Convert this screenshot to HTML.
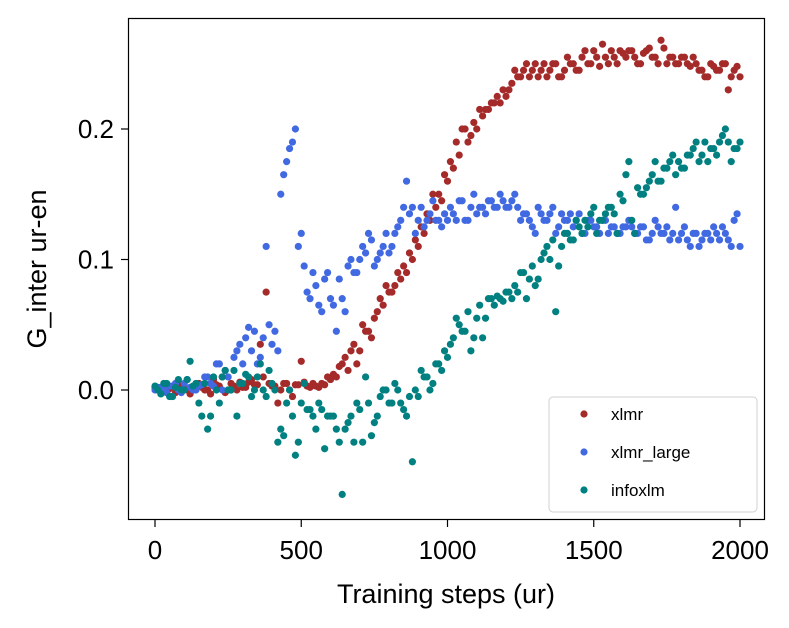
<!DOCTYPE html>
<html><head><meta charset="utf-8">
<style>
html,body{margin:0;padding:0;background:#fff;}
svg{display:block;font-family:"Liberation Sans","DejaVu Sans",sans-serif;}
</style></head>
<body>
<svg id="chart" width="789" height="628" xmlns="http://www.w3.org/2000/svg">
<rect x="128.5" y="18.5" width="636" height="501" fill="#fff" stroke="#000" stroke-width="1.2"/>
<g id="marks"></g>
<g id="axes"></g>
<text x="446" y="603" font-size="27" text-anchor="middle">Training steps (ur)</text>
<text transform="translate(46,269) rotate(-90)" font-size="27" text-anchor="middle">G_inter ur-en</text>
<g>
<rect x="549" y="397" width="208" height="115" rx="4" fill="#fff" stroke="#ccc" opacity="0.9"/>
<g id="legend-items"></g>
</g>
</svg>
<script>
const stepsA = [];
for (let i = 0; i <= 100; i++) stepsA.push(i * 20);
const stepsB = [];
for (let i = 0; i < 100; i++) stepsB.push(10 + i * 20);
const xlmrA = [0.002,0.0,-0.002,0.003,0.0,0.001,-0.003,0.004,0.002,0.0,0.008,0.003,-0.002,0.005,0.0,0.002,0.006,0.004,0.035,0.075,0.003,
-0.01,0.005,0.0,0.004,0.022,0.003,0.005,0.002,0.004,0.008,
0.01,0.02,0.015,0.035,0.03,0.045,0.04,0.06,0.065,0.075,
0.08,0.085,0.09,0.1,0.11,0.12,0.13,0.14,0.145,0.16,
0.17,0.18,0.2,0.195,0.2,0.21,0.215,0.22,0.22,0.225,
0.235,0.24,0.245,0.24,0.25,0.245,0.24,0.25,0.24,0.245,
0.25,0.245,0.255,0.25,0.26,0.248,0.255,0.26,0.25,0.258,
0.26,0.255,0.25,0.26,0.255,0.25,0.262,0.255,0.25,0.255,
0.25,0.255,0.245,0.24,0.25,0.245,0.25,0.23,0.245,0.24];
const xlmrB = [0.0,0.003,0.001,-0.002,0.004,0.0,0.002,0.005,0.0,-0.003,0.004,0.01,0.0,0.003,0.006,0.002,0.008,0.004,0.01,0.005,
0.003,0.0,0.005,-0.005,0.004,0.006,0.002,0.003,0.005,0.01,
0.012,0.018,0.025,0.03,0.02,0.05,0.045,0.055,0.07,0.08,
0.075,0.09,0.095,0.105,0.115,0.125,0.135,0.15,0.15,0.165,
0.175,0.19,0.2,0.19,0.205,0.215,0.215,0.22,0.225,0.23,
0.23,0.245,0.24,0.25,0.245,0.24,0.25,0.245,0.25,0.24,
0.255,0.25,0.245,0.26,0.25,0.255,0.265,0.25,0.255,0.26,
0.255,0.26,0.25,0.258,0.262,0.255,0.268,0.25,0.255,0.25,
0.255,0.248,0.25,0.245,0.24,0.248,0.245,0.25,0.24,0.248];
const xlmrLargeA = [0.0,0.002,-0.002,0.003,0.0,0.005,0.002,0.0,0.004,0.01,0.003,0.02,0.015,0.0,0.03,0.02,0.048,0.045,0.025,0.11,0.035,
0.03,0.165,0.185,0.2,0.12,0.075,0.09,0.065,0.085,0.07,
0.045,0.07,0.095,0.09,0.1,0.105,0.115,0.1,0.11,0.105,
0.12,0.13,0.16,0.14,0.13,0.125,0.135,0.13,0.125,0.13,
0.135,0.145,0.13,0.14,0.135,0.14,0.145,0.14,0.15,0.14,
0.145,0.14,0.135,0.13,0.12,0.135,0.13,0.14,0.125,0.13,
0.135,0.13,0.12,0.13,0.125,0.12,0.13,0.125,0.12,0.125,
0.13,0.12,0.125,0.115,0.12,0.125,0.12,0.115,0.14,0.12,
0.115,0.12,0.11,0.12,0.115,0.12,0.125,0.115,0.13,0.11];
const xlmrLargeB = [0.002,0.0,0.003,0.005,-0.002,0.008,0.0,0.003,0.01,0.005,0.02,0.0,0.01,0.025,0.035,0.04,0.03,0.02,0.04,0.05,
0.045,0.15,0.175,0.19,0.11,0.095,0.07,0.08,0.06,0.09,
0.065,0.085,0.06,0.1,0.09,0.11,0.12,0.095,0.105,0.12,
0.11,0.125,0.14,0.135,0.12,0.14,0.13,0.145,0.13,0.135,
0.14,0.13,0.145,0.13,0.15,0.14,0.135,0.145,0.14,0.145,
0.14,0.15,0.13,0.135,0.125,0.14,0.13,0.135,0.12,0.135,
0.13,0.125,0.135,0.12,0.13,0.125,0.13,0.12,0.125,0.12,
0.125,0.125,0.12,0.125,0.115,0.13,0.12,0.125,0.12,0.115,
0.125,0.11,0.12,0.115,0.12,0.125,0.115,0.12,0.11,0.135];
const infoxlmA = [0.003,-0.003,0.005,-0.005,0.008,0.0,0.022,0.005,-0.02,-0.03,0.01,-0.01,0.015,0.0,-0.02,0.005,0.01,0.0,0.02,-0.005,0.005,
-0.04,-0.035,0.0,-0.05,-0.01,-0.015,-0.02,-0.01,-0.045,-0.02,
-0.03,-0.08,-0.025,-0.04,-0.015,0.01,-0.035,-0.02,0.0,-0.01,
0.005,-0.01,-0.02,-0.055,-0.005,0.01,0.0,0.02,0.015,0.025,
0.04,0.05,0.045,0.03,0.055,0.04,0.07,0.065,0.07,0.075,
0.07,0.075,0.09,0.085,0.08,0.1,0.11,0.115,0.095,0.12,
0.115,0.13,0.12,0.125,0.14,0.13,0.135,0.14,0.12,0.145,
0.175,0.12,0.15,0.155,0.165,0.16,0.17,0.175,0.165,0.17,
0.18,0.185,0.175,0.19,0.185,0.18,0.195,0.19,0.185,0.19];
const infoxlmB = [0.0,0.005,-0.005,0.002,0.0,0.008,0.003,-0.01,0.005,-0.02,0.0,0.01,0.0,0.015,0.005,0.012,-0.005,0.01,0.0,0.015,
0.0,-0.03,-0.01,-0.02,-0.04,0.005,-0.015,-0.03,-0.015,-0.02,
-0.02,-0.04,-0.03,-0.02,-0.01,-0.04,-0.01,-0.025,-0.005,0.0,
-0.01,0.0,-0.015,-0.005,0.0,0.015,0.01,0.005,0.02,0.03,
0.035,0.055,0.045,0.06,0.04,0.065,0.055,0.07,0.072,0.068,
0.075,0.08,0.09,0.07,0.095,0.085,0.105,0.1,0.06,0.11,
0.12,0.115,0.125,0.13,0.135,0.12,0.13,0.14,0.135,0.15,
0.165,0.13,0.155,0.15,0.16,0.175,0.16,0.17,0.18,0.175,
0.17,0.18,0.19,0.18,0.175,0.185,0.19,0.2,0.175,0.185];
const xTicks = [0,500,1000,1500,2000];
const xTickLabels = ["0","500","1000","1500","2000"];
const yTicks = [0.0,0.1,0.2];
const yTickLabels = ["0.0","0.1","0.2"];
const seriesNames = ["xlmr","xlmr_large","infoxlm"];

const NS = "http://www.w3.org/2000/svg";
function xs(v){ return 155 + v * 0.2925; }
function ys(v){ return 390 - v * 1305; }
const colors = ["#a52a2a","#4169e1","#008080"];
const series = [[xlmrA, xlmrB], [xlmrLargeA, xlmrLargeB], [infoxlmA, infoxlmB]];
const marks = document.getElementById("marks");
series.forEach((pair, si) => {
  const g = document.createElementNS(NS, "g");
  
  
  pair.forEach((arr, k) => {
    const st = k === 0 ? stepsA : stepsB;
    arr.forEach((v, i) => {
      const c = document.createElementNS(NS, "circle");
      
      
      c.setAttribute("cx", xs(st[i]));
      c.setAttribute("cy", ys(v));
      c.setAttribute("r", 3.6);
      c.setAttribute("fill", colors[si]);
      g.appendChild(c);
    });
  });
  marks.appendChild(g);
});
const axes = document.getElementById("axes");
xTicks.forEach((t, i) => {
  const l = document.createElementNS(NS, "line");
  
  
  l.setAttribute("x1", xs(t)); l.setAttribute("x2", xs(t));
  l.setAttribute("y1", 520); l.setAttribute("y2", 527);
  l.setAttribute("stroke", "#000"); l.setAttribute("stroke-width", 1.2);
  axes.appendChild(l);
  const tx = document.createElementNS(NS, "text");
  
  
  tx.setAttribute("x", xs(t)); tx.setAttribute("y", 559);
  tx.setAttribute("font-size", 26); tx.setAttribute("text-anchor", "middle");
  tx.textContent = xTickLabels[i];
  axes.appendChild(tx);
});
yTicks.forEach((t, i) => {
  const l = document.createElementNS(NS, "line");
  
  
  l.setAttribute("x1", 121); l.setAttribute("x2", 128);
  l.setAttribute("y1", ys(t)); l.setAttribute("y2", ys(t));
  l.setAttribute("stroke", "#000"); l.setAttribute("stroke-width", 1.2);
  axes.appendChild(l);
  const tx = document.createElementNS(NS, "text");
  
  
  tx.setAttribute("x", 114); tx.setAttribute("y", ys(t) + 9);
  tx.setAttribute("font-size", 26); tx.setAttribute("text-anchor", "end");
  tx.textContent = yTickLabels[i];
  axes.appendChild(tx);
});
const li = document.getElementById("legend-items");
seriesNames.forEach((n, i) => {
  const y = 414 + i * 38;
  const c = document.createElementNS(NS, "circle");
  
  
  c.setAttribute("cx", 584); c.setAttribute("cy", y); c.setAttribute("r", 3.6);
  c.setAttribute("fill", colors[i]);
  li.appendChild(c);
  const t = document.createElementNS(NS, "text");
  
  
  t.setAttribute("x", 611); t.setAttribute("y", y + 6);
  t.setAttribute("font-size", 17);
  t.textContent = n;
  li.appendChild(t);
});
</script>
</body></html>
